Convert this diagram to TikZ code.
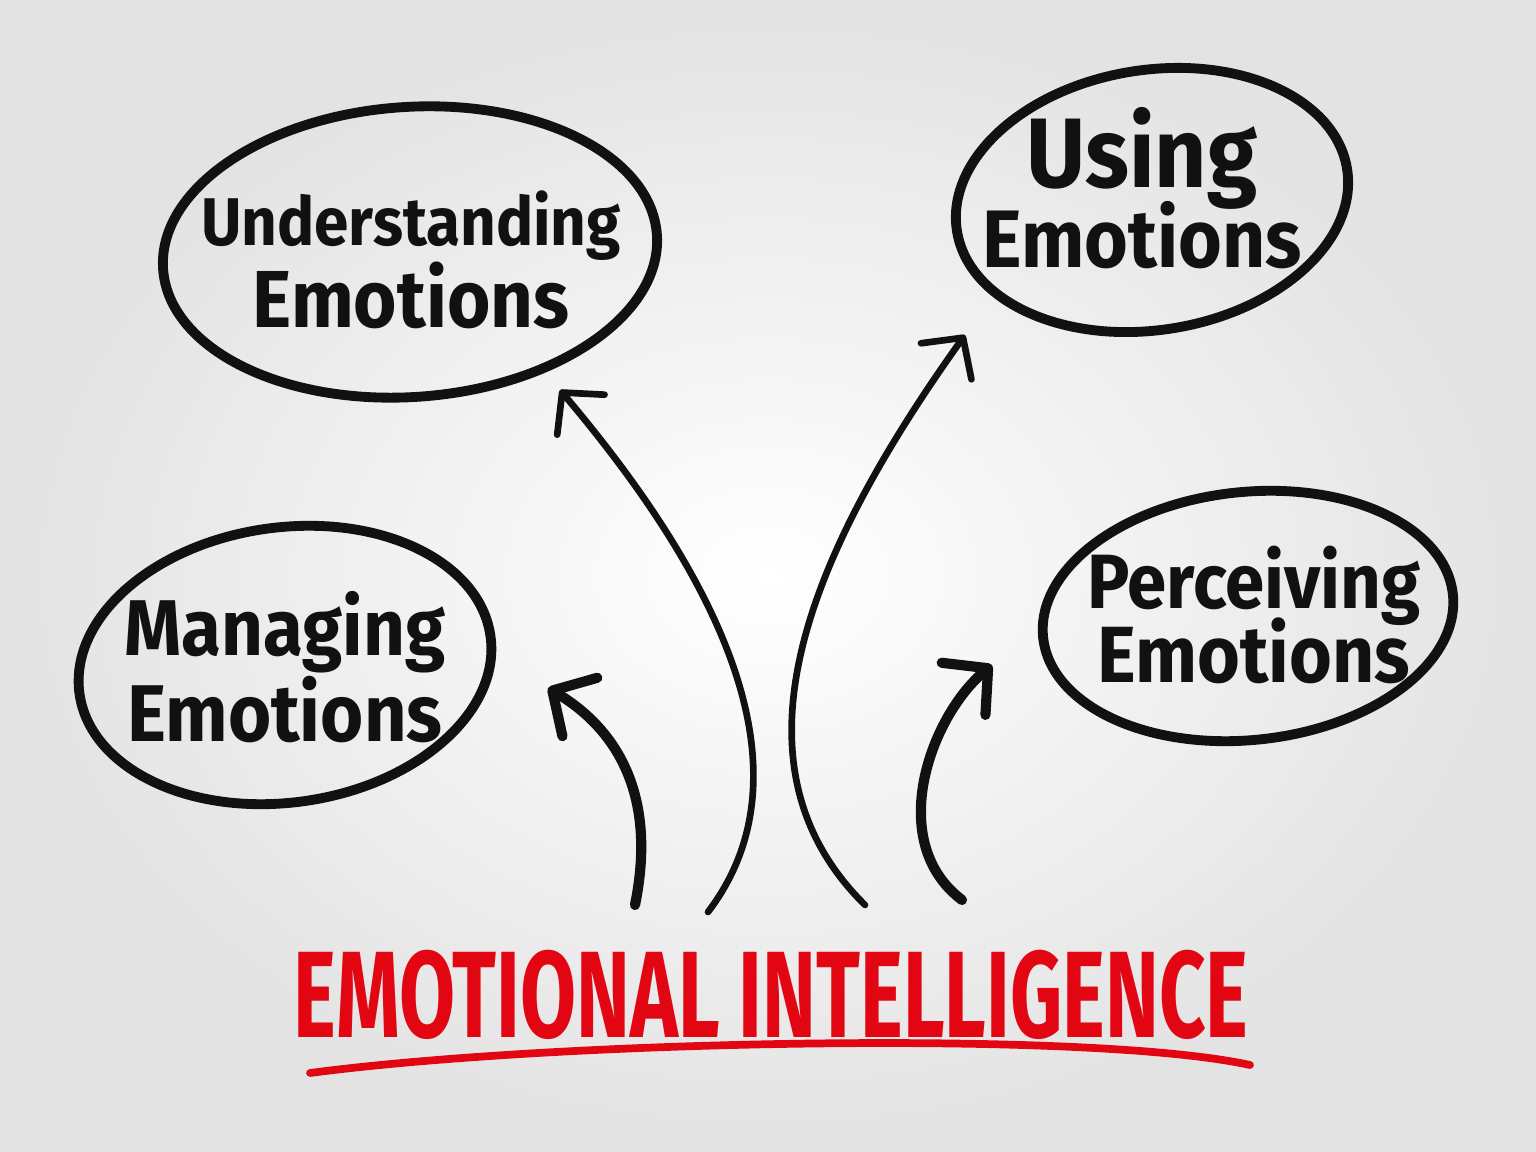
\documentclass[tikz,border=0pt]{standalone}
\usepackage{fontspec}
\setmainfont{Fira Sans}
\definecolor{markerred}{RGB}{226,6,19}
\definecolor{ink}{RGB}{17,17,17}
\usetikzlibrary{shapes.geometric,arrows.meta}

\begin{document}
\begin{tikzpicture}[
    bubble/.style={draw=ink, ellipse, line width=2.8pt},
    hand/.style={align=center, anchor=base, text=ink,
      font=\bfseries\fontsize{22}{22}\selectfont\setlength{\lineskiplimit}{-60pt},
      xscale=0.92, transform shape},
    fat arrow/.style={draw=ink, line width=2.9pt, line cap=round,
      -{Straight Barb[round,length=3.2mm,width=6.8mm]}},
    slim arrow/.style={draw=ink, line width=1.9pt, line cap=round,
      -{Straight Barb[round,length=2.9mm,width=6.2mm]}}
  ]
  % paper
  \fill [inner color=white, outer color=gray!22] (0,0) rectangle (15.36,11.52);

  % bubbles
  \node [bubble, minimum width=4.95cm, minimum height=2.9cm, rotate=4]  (under)   at (4.10,9.00) {};
  \node [bubble, minimum width=3.95cm, minimum height=2.6cm, rotate=9]  (using)   at (11.52,9.52) {};
  \node [bubble, minimum width=4.15cm, minimum height=2.75cm, rotate=8] (manag)   at (2.85,4.87) {};
  \node [bubble, minimum width=4.12cm, minimum height=2.48cm, rotate=6] (perceiv) at (12.48,5.36) {};

  % anchor=base sits on the second line
  \node [hand] (underTxt)   at (4.11,8.24) {{\fontsize{19.2}{22}\selectfont Understanding}\\[1.5pt]{\fontsize{23}{22}\selectfont Emotions}};
  \node [hand] (usingTxt)   at (11.42,8.84) {{\fontsize{28.1}{22}\selectfont Using}\\[1pt]{\fontsize{23.2}{22}\selectfont Emotions}};
  \node [hand] (managTxt)   at (2.85,4.10) {{\fontsize{22.5}{22}\selectfont Managing}\\[2.5pt]{\fontsize{22.9}{22}\selectfont Emotions}};
  \node [hand] (perceivTxt) at (12.54,4.69) {{\fontsize{21.9}{22}\selectfont Perceiving}\\[-0.8pt]{\fontsize{22.7}{22}\selectfont Emotions}};

  % title
  \node [text=markerred, font=\bfseries\fontsize{35}{35}\selectfont, xscale=0.66, transform shape]
    (title) at (7.71,1.57) {EMOTIONAL INTELLIGENCE};
  \coordinate (ulLeft)  at (3.10,0.79);
  \coordinate (ulRight) at (12.50,0.87);
  \draw [markerred, line width=2.2pt, line cap=round]
    (ulLeft) .. controls (5.6,1.12) and (10.9,1.22) .. (ulRight);

  % arrows
  \coordinate (fromM) at (6.35,2.47);
  \coordinate (fromU) at (7.08,2.40);
  \coordinate (fromS) at (8.65,2.47);
  \coordinate (fromP) at (9.62,2.52);
  \coordinate (tipM) at (5.48,4.64);
  \coordinate (tipU) at (5.60,7.62);
  \coordinate (tipS) at (9.65,8.17);
  \coordinate (tipP) at (9.92,4.87);

  \draw [fat arrow]  (fromM) .. controls (6.60,3.70) and (6.05,4.30) .. (tipM);
  \draw [slim arrow] (fromU) .. controls (8.30,4.00) and (6.80,6.20) .. (tipU);
  \draw [slim arrow] (fromS) .. controls (7.20,3.90) and (8.10,6.00) .. (tipS);
  \draw [fat arrow]  (fromP) .. controls (8.85,3.10) and (9.30,4.35) .. (tipP);
\end{tikzpicture}
\end{document}
